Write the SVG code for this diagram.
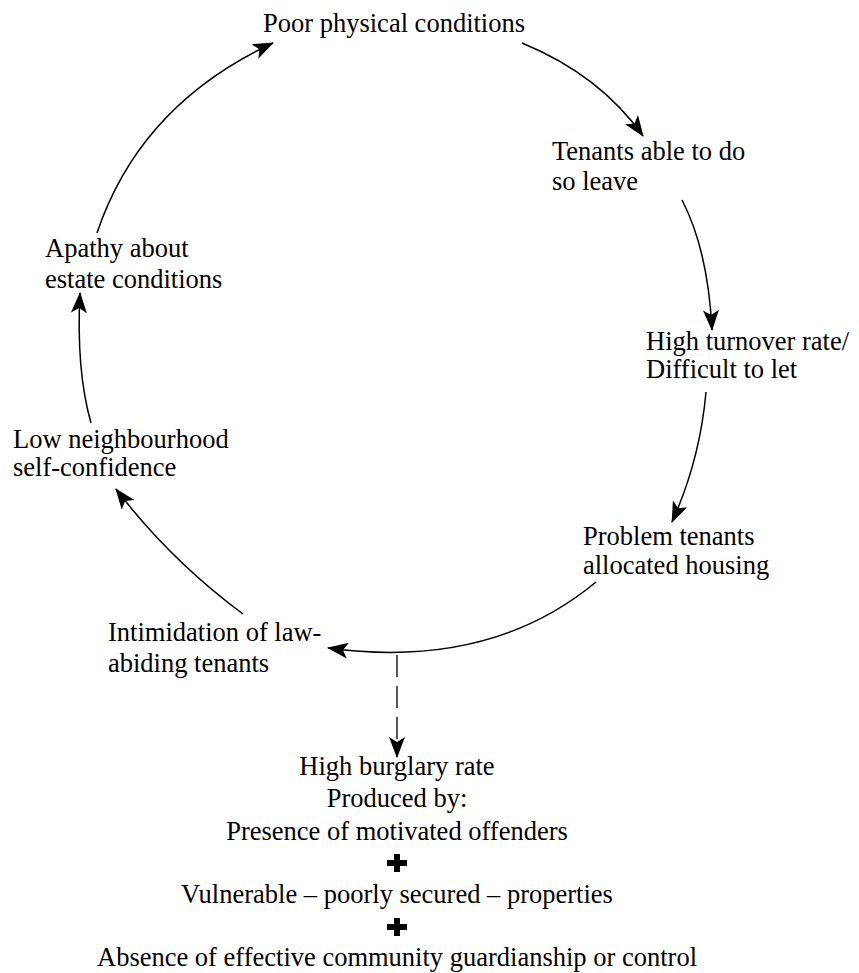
<svg xmlns="http://www.w3.org/2000/svg" width="859" height="973" viewBox="0 0 859 973">
<style>
text{font-family:"Liberation Serif","Times New Roman",serif;font-size:26.5px;fill:#000}
.c{stroke:#000;stroke-width:1.5;fill:none}
.d{stroke:#222;stroke-width:1.5;fill:none;stroke-dasharray:22 9}
.m{text-anchor:middle}
</style>
<defs>
<marker id="ah" markerWidth="21" markerHeight="16" refX="20" refY="8" orient="auto" markerUnits="userSpaceOnUse">
<path d="M0,0 L21,8 L0,16 L5,8z" fill="#000"/>
</marker>
</defs>
<rect width="859" height="973" fill="#fff"/>
<g id="connectors">
<path class="c" d="M522,43 Q600,75 643,136" marker-end="url(#ah)"/>
<path class="c" d="M682,200 Q708,250 712,330" marker-end="url(#ah)"/>
<path class="c" d="M706,392 Q700,460 672,522" marker-end="url(#ah)"/>
<path class="c" d="M596,582 Q490,670 328,648" marker-end="url(#ah)"/>
<path class="d" d="M397,655 L397,757" marker-end="url(#ah)"/>
<path class="c" d="M243,614 Q170,560 116,489" marker-end="url(#ah)"/>
<path class="c" d="M91,423 Q76,370 80,293" marker-end="url(#ah)"/>
<path class="c" d="M97,233 Q140,105 273,43" marker-end="url(#ah)"/>
</g>
<g id="poor"><text x="263" y="32">Poor physical conditions</text></g>
<g id="tenants"><text x="552" y="160">Tenants able to do</text><text x="552" y="190">so leave</text></g>
<g id="turnover"><text x="646" y="350">High turnover rate/</text><text x="646" y="378">Difficult to let</text></g>
<g id="problem"><text x="583" y="545">Problem tenants</text><text x="583" y="574">allocated housing</text></g>
<g id="intimidation"><text x="108" y="641">Intimidation of law-</text><text x="108" y="672">abiding tenants</text></g>
<g id="lowconf"><text x="13" y="448">Low neighbourhood</text><text x="13" y="476">self-confidence</text></g>
<g id="apathy"><text x="45" y="257">Apathy about</text><text x="45" y="288">estate conditions</text></g>
<g id="burglary">
<text class="m" x="397" y="775">High burglary rate</text>
<text class="m" x="397" y="807">Produced by:</text>
<text class="m" x="397" y="840">Presence of motivated offenders</text>
<path d="M394,854h6v6h7v6h-7v6h-6v-6h-7v-6h7z" fill="#000"/>
<text class="m" x="397" y="903">Vulnerable – poorly secured – properties</text>
<path d="M394,918h6v6h7v6h-7v6h-6v-6h-7v-6h7z" fill="#000"/>
<text class="m" x="397" y="966">Absence of effective community guardianship or control</text>
</g>
</svg>
